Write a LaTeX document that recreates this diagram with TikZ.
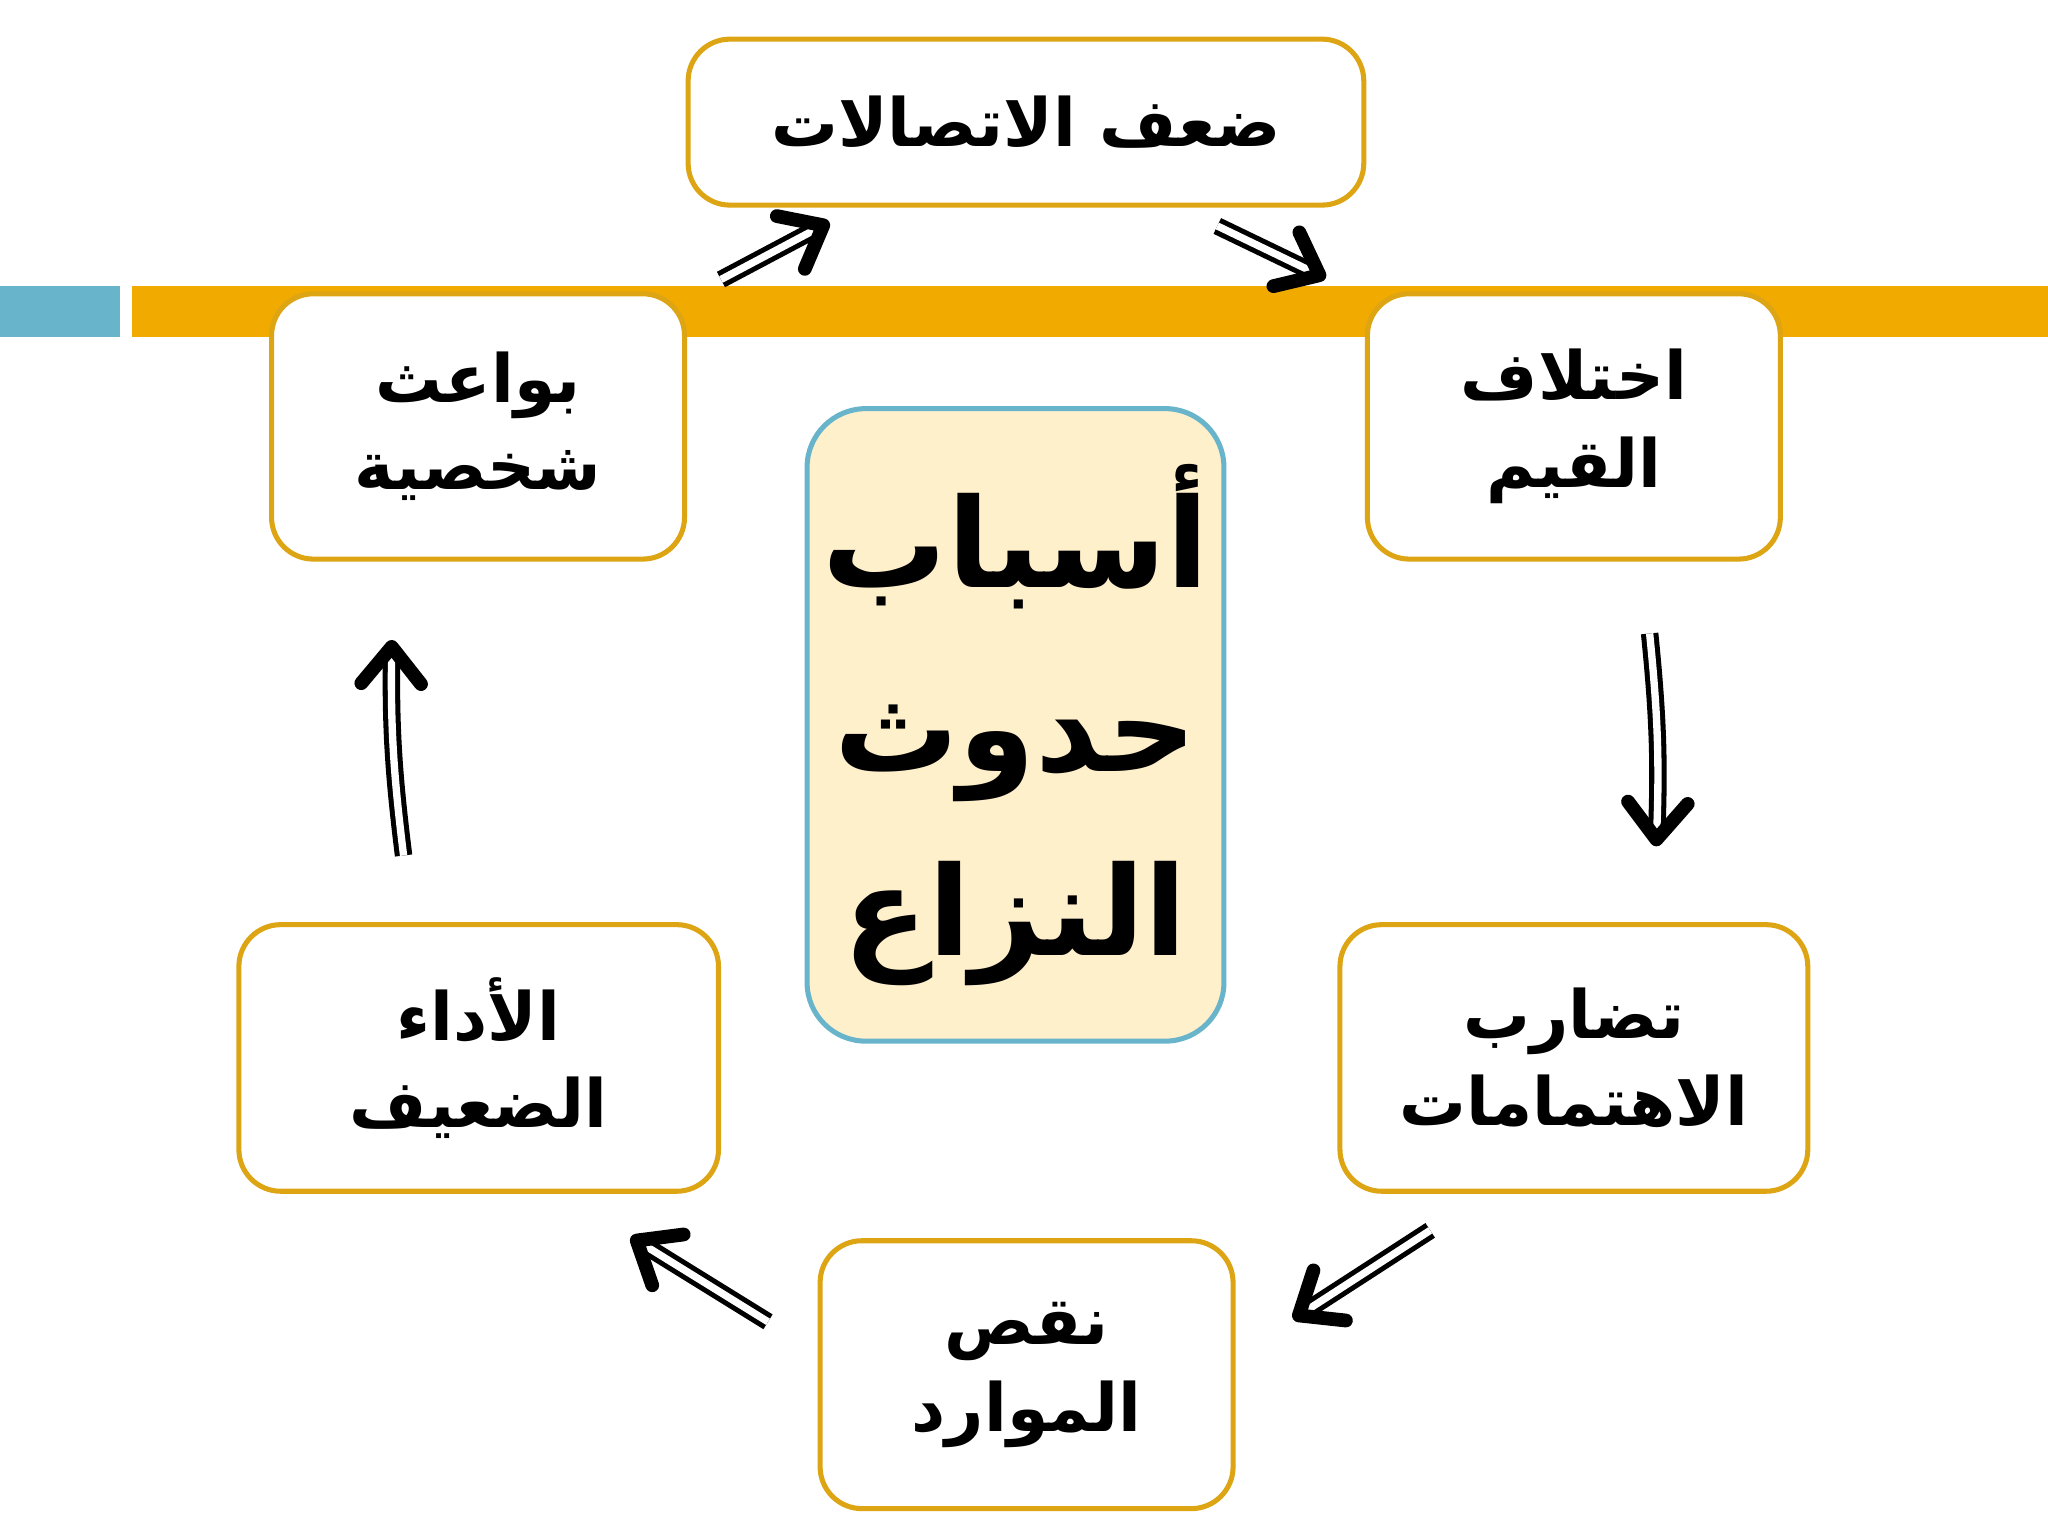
\documentclass[tikz,border=0pt]{standalone}
\usepackage{fontspec}
\newfontfamily\arabicfont[Script=Arabic]{DejaVu Sans}
\TeXXeTstate=1
\usetikzlibrary{arrows.meta}
\definecolor{barorange}{HTML}{F0AA00}
\definecolor{barblue}{HTML}{67B4CB}
\definecolor{boxborder}{HTML}{DDA514}
\definecolor{centerfill}{HTML}{FFF0CC}
\tikzset{
 box/.style={draw=boxborder, line width=1.1pt, fill=white, rounded corners=0.32cm, align=center, font=\arabicfont\bfseries\fontsize{14.5}{19}\selectfont, inner sep=0pt},
 dbl/.style={draw=black, double=white, double distance=1.6pt, line width=1.1pt, -{Straight Barb[length=8pt,width=13pt,line width=3pt,round]}}
}
\newcommand{\rl}[1]{\beginR #1\endR}
\begin{document}
\begin{tikzpicture}[x=0.01cm,y=-0.01cm]
\useasboundingbox (0,0) rectangle (1568,1176);
\fill[white] (0,0) rectangle (1568,1176);
\fill[barblue] (0,219) rectangle (92,258);
\fill[barorange] (101,219) rectangle (1568,258);
\node[box, minimum width=5.17cm, minimum height=1.27cm] (top) at (785.5,93.5) {\rl{ضعف الاتصالات}};
\node[box, minimum width=3.16cm, minimum height=2.03cm] (rt) at (1205,326.5) {\rl{اختلاف}\\\rl{القيم}};
\node[box, minimum width=3.58cm, minimum height=2.04cm] (rb) at (1205,810) {\rl{تضارب}\\\rl{الاهتمامات}};
\node[box, minimum width=3.16cm, minimum height=2.05cm] (bt) at (786,1052.5) {\rl{نقص}\\\rl{الموارد}};
\node[box, minimum width=3.67cm, minimum height=2.04cm] (lb) at (366.5,810) {\rl{الأداء}\\\rl{الضعيف}};
\node[box, minimum width=3.16cm, minimum height=2.03cm] (lt) at (366,326.5) {\rl{بواعث}\\\rl{شخصية}};
\node[box, draw=barblue, fill=centerfill, rounded corners=0.45cm, minimum width=3.19cm, minimum height=4.84cm, font=\arabicfont\bfseries\fontsize{27}{40}\selectfont] (c) at (777.5,555) {\rl{أسباب}\\\rl{حدوث}\\\rl{النزاع}};
\coordinate (a1s) at (552,214); \coordinate (a1e) at (635,170);
\coordinate (a2s) at (932,173); \coordinate (a2e) at (1015,213);
\coordinate (a3s) at (1263,485); \coordinate (a3e) at (1268,648);
\coordinate (a4s) at (1095,942); \coordinate (a4e) at (990,1010);
\coordinate (a5s) at (588,1012); \coordinate (a5e) at (483,947);
\coordinate (a6s) at (309,655); \coordinate (a6e) at (300,490);
\draw[dbl] (a1s) -- (a1e);
\draw[dbl] (a2s) -- (a2e);
\draw[dbl] (a3s) to[bend left=4] (a3e);
\draw[dbl] (a4s) -- (a4e);
\draw[dbl] (a5s) -- (a5e);
\draw[dbl] (a6s) to[bend left=4] (a6e);
\end{tikzpicture}
\end{document}
